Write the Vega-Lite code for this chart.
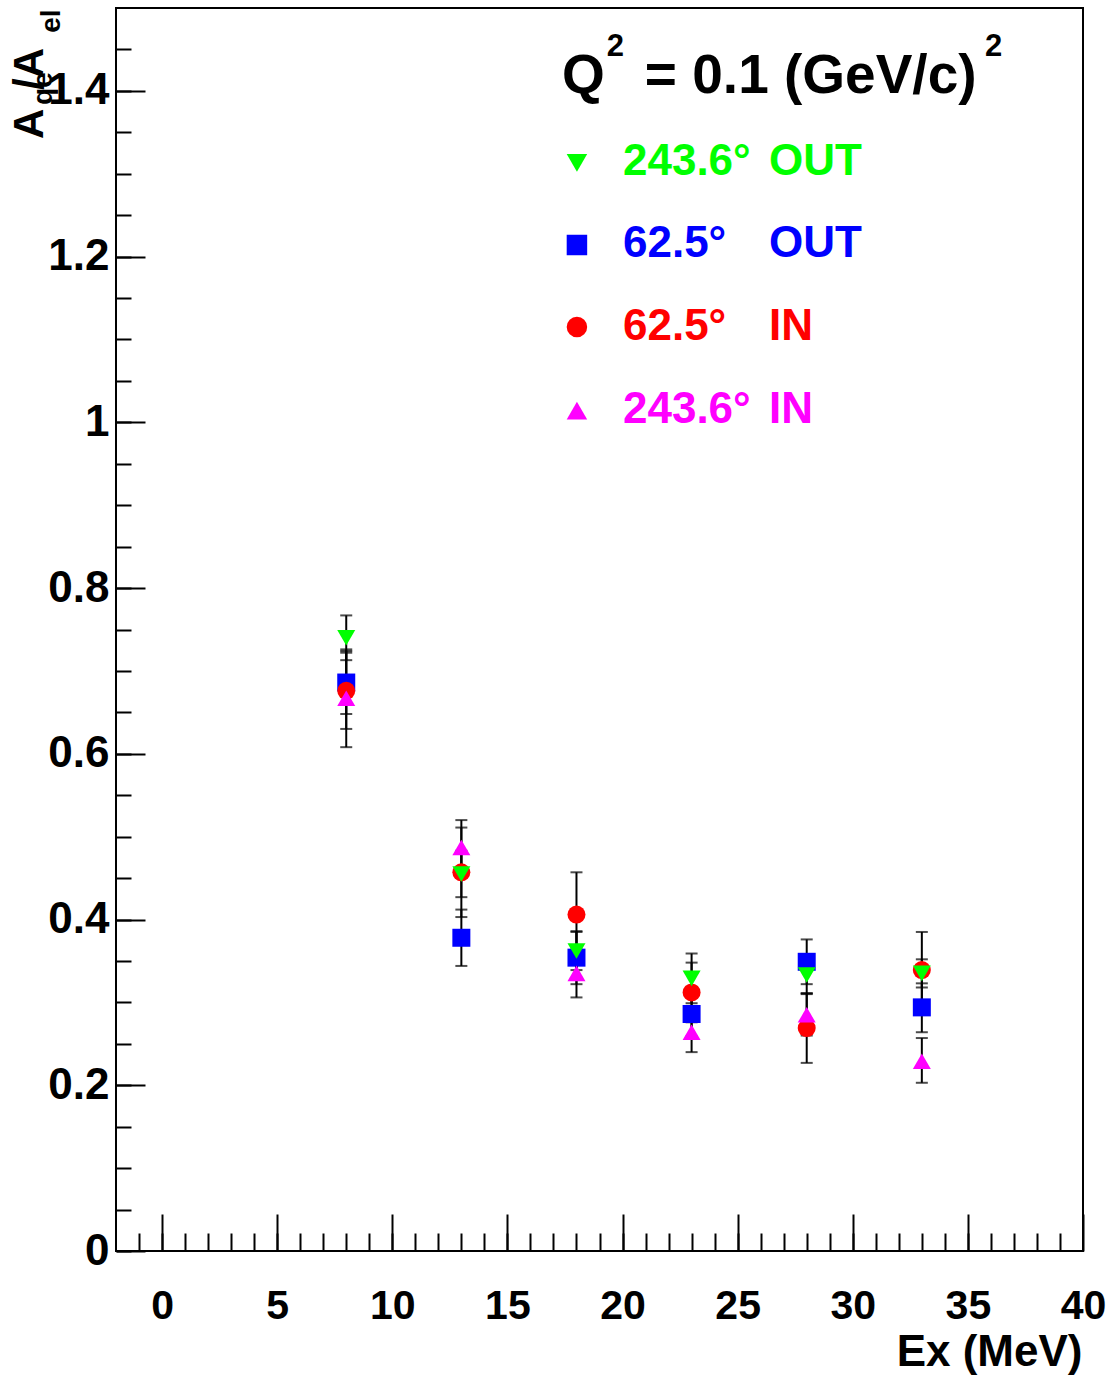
{
  "$schema": "https://vega.github.io/schema/vega-lite/v6.json",
  "width": 967,
  "height": 1243,
  "autosize": {"type": "none"},
  "padding": {"left": 116, "top": 8, "right": 30, "bottom": 129},
  "background": "white",
  "config": {
    "view": {"stroke": "black", "strokeWidth": 2},
    "font": "Liberation Sans",
    "axis": {
      "grid": false, "domain": false,
      "labelFont": "Liberation Sans", "labelFontWeight": "bold", "labelColor": "black",
      "tickColor": "black", "tickWidth": 2,
      "titleFont": "Liberation Sans", "titleFontWeight": "bold", "titleColor": "black"
    },
    "text": {"font": "Liberation Sans", "fontWeight": "bold"}
  },
  "datasets": {
    "pts": [
      {"series": "62.5° OUT", "ex": 8, "val": 0.686, "lo": 0.648, "hi": 0.724},
      {"series": "62.5° OUT", "ex": 13, "val": 0.378, "lo": 0.344, "hi": 0.412},
      {"series": "62.5° OUT", "ex": 18, "val": 0.354, "lo": 0.322, "hi": 0.386},
      {"series": "62.5° OUT", "ex": 23, "val": 0.286, "lo": 0.259, "hi": 0.313},
      {"series": "62.5° OUT", "ex": 28, "val": 0.349, "lo": 0.322, "hi": 0.376},
      {"series": "62.5° OUT", "ex": 33, "val": 0.294, "lo": 0.264, "hi": 0.323},
      {"series": "62.5° IN", "ex": 8, "val": 0.676, "lo": 0.630, "hi": 0.722},
      {"series": "62.5° IN", "ex": 13, "val": 0.457, "lo": 0.403, "hi": 0.511},
      {"series": "62.5° IN", "ex": 18, "val": 0.406, "lo": 0.355, "hi": 0.457},
      {"series": "62.5° IN", "ex": 23, "val": 0.312, "lo": 0.276, "hi": 0.348},
      {"series": "62.5° IN", "ex": 28, "val": 0.269, "lo": 0.227, "hi": 0.311},
      {"series": "62.5° IN", "ex": 33, "val": 0.339, "lo": 0.293, "hi": 0.385},
      {"series": "243.6° IN", "ex": 8, "val": 0.667, "lo": 0.608, "hi": 0.726},
      {"series": "243.6° IN", "ex": 13, "val": 0.487, "lo": 0.454, "hi": 0.520},
      {"series": "243.6° IN", "ex": 18, "val": 0.335, "lo": 0.306, "hi": 0.364},
      {"series": "243.6° IN", "ex": 23, "val": 0.264, "lo": 0.240, "hi": 0.288},
      {"series": "243.6° IN", "ex": 28, "val": 0.285, "lo": 0.260, "hi": 0.310},
      {"series": "243.6° IN", "ex": 33, "val": 0.229, "lo": 0.203, "hi": 0.257},
      {"series": "243.6° OUT", "ex": 8, "val": 0.740, "lo": 0.713, "hi": 0.767},
      {"series": "243.6° OUT", "ex": 13, "val": 0.455, "lo": 0.427, "hi": 0.483},
      {"series": "243.6° OUT", "ex": 18, "val": 0.362, "lo": 0.339, "hi": 0.385},
      {"series": "243.6° OUT", "ex": 23, "val": 0.329, "lo": 0.299, "hi": 0.359},
      {"series": "243.6° OUT", "ex": 28, "val": 0.333, "lo": 0.311, "hi": 0.355},
      {"series": "243.6° OUT", "ex": 33, "val": 0.335, "lo": 0.318, "hi": 0.352}
    ],
    "leg": [
      {"series": "243.6° OUT", "ang": "243.6°", "dir": "OUT", "sy": 1.313, "ty": 1.298},
      {"series": "62.5° OUT", "ang": "62.5°", "dir": "OUT", "sy": 1.214, "ty": 1.199},
      {"series": "62.5° IN", "ang": "62.5°", "dir": "IN", "sy": 1.115, "ty": 1.099},
      {"series": "243.6° IN", "ang": "243.6°", "dir": "IN", "sy": 1.014, "ty": 0.999}
    ]
  },
  "resolve": {"axis": {"x": "independent", "y": "independent"}},
  "layer": [
    {
      "data": {"name": "pts"},
      "mark": {"type": "rule", "color": "black", "strokeWidth": 2},
      "encoding": {
        "x": {"field": "ex", "type": "quantitative", "scale": {"domain": [-2, 40], "nice": false, "zero": false},
          "axis": {"orient": "bottom", "values": [0, 5, 10, 15, 20, 25, 30, 35, 40], "ticks": false, "labelFontSize": 41, "labelPadding": 35, "labelFlush": false,
            "title": "Ex (MeV)", "titleFontSize": 44, "titleX": 966, "titleY": 114, "titleAlign": "right", "titleBaseline": "alphabetic"}},
        "y": {"field": "lo", "type": "quantitative", "scale": {"domain": [0, 1.5], "nice": false, "zero": false},
          "axis": {"orient": "left", "values": [0, 0.2, 0.4, 0.6, 0.8, 1, 1.2, 1.4], "format": "~g", "ticks": false, "labelFontSize": 44, "labelPadding": 7, "title": null}},
        "y2": {"field": "hi"}
      }
    },
    {
      "data": {"name": "pts"},
      "mark": {"type": "tick", "orient": "horizontal", "color": "black", "size": 12, "thickness": 2},
      "encoding": {
        "x": {"field": "ex", "type": "quantitative", "scale": {"domain": [-2, 40], "nice": false, "zero": false},
          "axis": {"orient": "bottom", "values": [0, 5, 10, 15, 20, 25, 30, 35, 40], "labels": false, "tickSize": -37, "title": null}},
        "y": {"field": "lo", "type": "quantitative", "scale": {"domain": [0, 1.5], "nice": false, "zero": false},
          "axis": {"orient": "left", "values": [0, 0.2, 0.4, 0.6, 0.8, 1, 1.2, 1.4], "labels": false, "tickSize": -29, "title": null}}
      }
    },
    {
      "data": {"name": "pts"},
      "mark": {"type": "tick", "orient": "horizontal", "color": "black", "size": 12, "thickness": 2},
      "encoding": {
        "x": {"field": "ex", "type": "quantitative", "scale": {"domain": [-2, 40], "nice": false, "zero": false},
          "axis": {"orient": "bottom", "values": [-1, 0, 1, 2, 3, 4, 5, 6, 7, 8, 9, 10, 11, 12, 13, 14, 15, 16, 17, 18, 19, 20, 21, 22, 23, 24, 25, 26, 27, 28, 29, 30, 31, 32, 33, 34, 35, 36, 37, 38, 39], "labels": false, "tickSize": -18, "title": null}},
        "y": {"field": "hi", "type": "quantitative", "scale": {"domain": [0, 1.5], "nice": false, "zero": false},
          "axis": {"orient": "left", "values": [0, 0.05, 0.1, 0.15, 0.2, 0.25, 0.3, 0.35, 0.4, 0.45, 0.5, 0.55, 0.6, 0.65, 0.7, 0.75, 0.8, 0.85, 0.9, 0.95, 1, 1.05, 1.1, 1.15, 1.2, 1.25, 1.3, 1.35, 1.4, 1.45], "labels": false, "tickSize": -15, "title": null}}
      }
    },
    {
      "data": {"name": "pts"},
      "mark": {"type": "point", "filled": true, "size": 324, "opacity": 1, "strokeWidth": 0},
      "encoding": {
        "x": {"field": "ex", "type": "quantitative", "axis": null},
        "y": {"field": "val", "type": "quantitative", "axis": null},
        "color": {"field": "series", "type": "nominal", "legend": null,
          "scale": {"domain": ["243.6° OUT", "62.5° OUT", "62.5° IN", "243.6° IN"], "range": ["#00ff00", "#0000ff", "#ff0000", "#ff00ff"]}},
        "shape": {"field": "series", "type": "nominal", "legend": null,
          "scale": {"domain": ["243.6° OUT", "62.5° OUT", "62.5° IN", "243.6° IN"], "range": ["triangle-down", "square", "circle", "triangle-up"]}}
      }
    },
    {
      "data": {"name": "leg"},
      "mark": {"type": "point", "filled": true, "size": 420, "opacity": 1, "strokeWidth": 0},
      "encoding": {
        "x": {"datum": 18.02, "type": "quantitative", "axis": null},
        "y": {"field": "sy", "type": "quantitative", "axis": null},
        "color": {"field": "series", "type": "nominal", "legend": null},
        "shape": {"field": "series", "type": "nominal", "legend": null}
      }
    },
    {
      "data": {"name": "leg"},
      "mark": {"type": "text", "fontSize": 44, "align": "left", "baseline": "alphabetic"},
      "encoding": {
        "x": {"datum": 20.02, "type": "quantitative", "axis": null},
        "y": {"field": "ty", "type": "quantitative", "axis": null},
        "text": {"field": "ang"},
        "color": {"field": "series", "type": "nominal", "legend": null}
      }
    },
    {
      "data": {"name": "leg"},
      "mark": {"type": "text", "fontSize": 44, "align": "left", "baseline": "alphabetic"},
      "encoding": {
        "x": {"datum": 26.36, "type": "quantitative", "axis": null},
        "y": {"field": "ty", "type": "quantitative", "axis": null},
        "text": {"field": "dir"},
        "color": {"field": "series", "type": "nominal", "legend": null}
      }
    },
    {
      "data": {"values": [{"t": "Q", "x": 17.37, "y": 1.398}, {"t": "= 0.1 (GeV/c)", "x": 20.97, "y": 1.398}]},
      "mark": {"type": "text", "fontSize": 55, "align": "left", "baseline": "alphabetic", "color": "black"},
      "encoding": {
        "x": {"field": "x", "type": "quantitative", "axis": null},
        "y": {"field": "y", "type": "quantitative", "axis": null},
        "text": {"field": "t"}
      }
    },
    {
      "data": {"values": [{"t": "2", "x": 19.32, "y": 1.442}, {"t": "2", "x": 35.74, "y": 1.442}]},
      "mark": {"type": "text", "fontSize": 31, "align": "left", "baseline": "alphabetic", "color": "black"},
      "encoding": {
        "x": {"field": "x", "type": "quantitative", "axis": null},
        "y": {"field": "y", "type": "quantitative", "axis": null},
        "text": {"field": "t"}
      }
    },
    {
      "data": {"values": [{"t": "A", "x": -5.17, "y": 1.342}, {"t": "/A", "x": -5.17, "y": 1.401}]},
      "mark": {"type": "text", "fontSize": 42, "align": "left", "baseline": "alphabetic", "angle": 270, "color": "black"},
      "encoding": {
        "x": {"field": "x", "type": "quantitative", "axis": null},
        "y": {"field": "y", "type": "quantitative", "axis": null},
        "text": {"field": "t"}
      }
    },
    {
      "data": {"values": [{"t": "qe", "x": -4.78, "y": 1.383}, {"t": "el", "x": -4.43, "y": 1.470}]},
      "mark": {"type": "text", "fontSize": 28, "align": "left", "baseline": "alphabetic", "angle": 270, "color": "black"},
      "encoding": {
        "x": {"field": "x", "type": "quantitative", "axis": null},
        "y": {"field": "y", "type": "quantitative", "axis": null},
        "text": {"field": "t"}
      }
    }
  ]
}
